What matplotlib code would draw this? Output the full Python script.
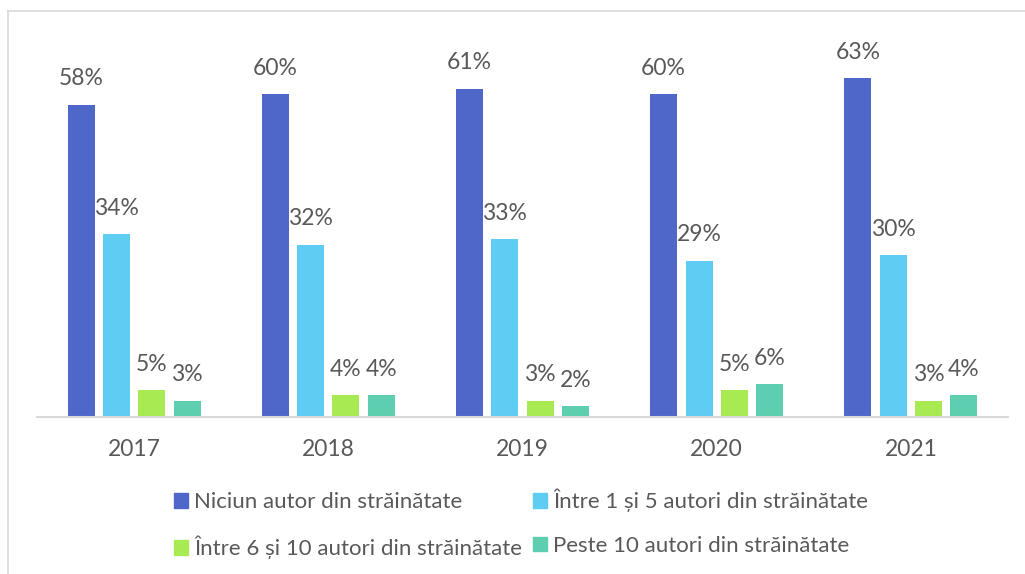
import matplotlib
matplotlib.use("Agg")
import matplotlib.pyplot as plt
from matplotlib.lines import Line2D
from matplotlib.patches import Patch
import numpy as np

# data
years = ["2017", "2018", "2019", "2020", "2021"]
series_names = [
    "Niciun autor din străinătate",
    "Între 1 și 5 autori din străinătate",
    "Între 6 și 10 autori din străinătate",
    "Peste 10 autori din străinătate",
]
niciun = [58, 60, 61, 60, 63]
intre_1_5 = [34, 32, 33, 29, 30]
intre_6_10 = [5, 4, 3, 5, 3]
peste_10 = [3, 4, 2, 6, 4]

colors = ["#4E67C8", "#5ECCF3", "#A7EA52", "#5DCEAF"]
text_grey = "#595959"
line_grey = "#D9D9D9"

plt.rcParams['font.family'] = ['Lato', 'DejaVu Sans']

fig = plt.figure(figsize=(10.25, 5.74), dpi=100)
ax = fig.add_axes([37/1025, 1 - 416.7/574, (1008-37)/1025, (416.7-40.2)/574])

x = np.arange(len(years))
slot = 0.182
width = 0.139
all_series = [niciun, intre_1_5, intre_6_10, peste_10]
handles = []
for i, vals in enumerate(all_series):
    off = (i - 1.5) * slot
    bars = ax.bar(x + off, vals, width, color=colors[i], zorder=2)
    for b, v in zip(bars, vals):
        ax.annotate(f"{v}%", (b.get_x() + b.get_width()/2, v),
                    xytext=(0, 11), textcoords="offset points",
                    ha="center", va="bottom", fontsize=16.5, color=text_grey)
    handles.append(Patch(color=colors[i], label=series_names[i]))

ax.set_xlim(-0.5, len(years) - 0.5)
ax.set_ylim(0, 70)
ax.set_xticks(x)
ax.set_xticklabels(years, fontsize=16.5, color=text_grey)
ax.tick_params(axis="x", length=0, pad=16)
ax.set_yticks([])
for s in ["top", "right", "left"]:
    ax.spines[s].set_visible(False)
ax.spines["bottom"].set_color(line_grey)
ax.spines["bottom"].set_linewidth(1.5)

# legend laid out row-wise (matplotlib fills columns first)
order = [0, 2, 1, 3]
leg = fig.legend([handles[k] for k in order], [series_names[k] for k in order],
                 ncol=2, loc="center", bbox_to_anchor=(521/1025, 1 - 524/574),
                 frameon=False, fontsize=16, handlelength=0.63, handleheight=0.63,
                 handletextpad=0.27, columnspacing=0.5, labelspacing=1.07,
                 borderpad=0)
for t in leg.get_texts():
    t.set_color(text_grey)

# outer chart frame (only left and top visible in the crop)
fig.add_artist(Line2D([8/1025, 8/1025], [0, 1 - 11/574], color=line_grey, lw=1.2))
fig.add_artist(Line2D([8/1025, 1], [1 - 11/574, 1 - 11/574], color=line_grey, lw=1.2))

fig.savefig("out.png", dpi=100)
